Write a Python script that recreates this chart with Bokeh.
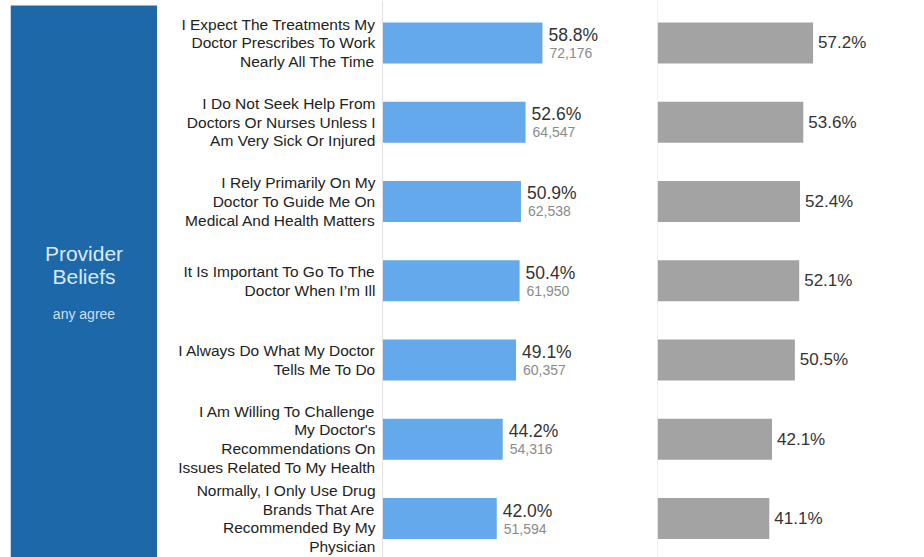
from bokeh.plotting import figure
from bokeh.layouts import row
from bokeh.models import ColumnDataSource, Range1d, Span, Label, BoxAnnotation
from bokeh.core.properties import value
from bokeh.embed import file_html
from bokeh.resources import INLINE

# ---- data ----
statements = [
    "I Expect The Treatments My\nDoctor Prescribes To Work\nNearly All The Time",
    "I Do Not Seek Help From\nDoctors Or Nurses Unless I\nAm Very Sick Or Injured",
    "I Rely Primarily On My\nDoctor To Guide Me On\nMedical And Health Matters",
    "It Is Important To Go To The\nDoctor When I\u2019m Ill",
    "I Always Do What My Doctor\nTells Me To Do",
    "I Am Willing To Challenge\nMy Doctor's\nRecommendations On\nIssues Related To My Health",
    "Normally, I Only Use Drug\nBrands That Are\nRecommended By My\nPhysician",
]
blue_pct = [58.8, 52.6, 50.9, 50.4, 49.1, 44.2, 42.0]
blue_count = ["72,176", "64,547", "62,538", "61,950", "60,357", "54,316", "51,594"]
gray_pct = [57.2, 53.6, 52.4, 52.1, 50.5, 42.1, 41.1]

panel_title = ["Provider", "Beliefs"]
panel_sub = "any agree"

FONT = "Liberation Sans"
H = 557
PX_PER_PCT = 2.72
y_rng = (6.492, -0.536)
BAR_H = 0.517

idx = list(range(len(statements)))
src = ColumnDataSource(dict(
    y=idx, label=statements, bp=blue_pct, gp=gray_pct,
    bp_txt=[f"{v:.1f}%" for v in blue_pct],
    gp_txt=[f"{v:.1f}%" for v in gray_pct],
    cnt=blue_count,
))


def base_fig(width, xr, yr, **kw):
    p = figure(width=width, height=H, x_range=xr, y_range=yr,
               toolbar_location=None, output_backend="svg",
               min_border=0, outline_line_color=None,
               border_fill_color="white", background_fill_color="white", **kw)
    p.axis.visible = False
    p.grid.visible = False
    return p


# ---- left blue panel ----
pA = base_fig(157, Range1d(0, 147), Range1d(H, 0))
pA.min_border_left = 10
pA.add_layout(BoxAnnotation(left=0, right=147, top=5, bottom=H,
                            fill_color="#1c68a9", fill_alpha=1.0, line_color=None))
for txt, yy in zip(panel_title, [253, 276]):
    pA.add_layout(Label(x=73.5, y=yy, text=txt, text_align="center",
                        text_baseline="middle", text_font=FONT,
                        text_font_size="21px", text_color="#dce8f5"))
pA.add_layout(Label(x=73.5, y=313, text=panel_sub, text_align="center",
                    text_baseline="middle", text_font=FONT,
                    text_font_size="14px", text_color="#cfdff0"))

# ---- labels + blue bars ----
wB = 500
left_w = 225
pB = base_fig(wB, Range1d(-left_w / PX_PER_PCT, (wB - left_w) / PX_PER_PCT),
              Range1d(*y_rng))
pB.hbar(y="y", left=0, right="bp", height=BAR_H, source=src,
        fill_color="#63a9ec", line_color=None)
pB.add_layout(Span(location=0, dimension="height", line_color="#e2e2e2", line_width=1))
pB.text(x=0, y="y", text="label", source=src, x_offset=-7,
        text_align="right", text_baseline="middle", text_font=value(FONT),
        text_font_size="15.5px", text_color="#222222", text_line_height=1.1)
pB.text(x="bp", y="y", text="bp_txt", source=src, x_offset=6, y_offset=-8,
        text_align="left", text_baseline="middle", text_font=value(FONT),
        text_font_size="17.5px", text_color="#333333")
pB.text(x="bp", y="y", text="cnt", source=src, x_offset=7, y_offset=10,
        text_align="left", text_baseline="middle", text_font=value(FONT),
        text_font_size="14px", text_color="#8a8a8a")

# ---- gray bars ----
wC = 267
pC = base_fig(wC, Range1d(0, wC / PX_PER_PCT), Range1d(*y_rng))
pC.hbar(y="y", left=0, right="gp", height=BAR_H, source=src,
        fill_color="#a3a3a3", line_color=None)
pC.add_layout(Span(location=0, dimension="height", line_color="#e2e2e2", line_width=1))
pC.text(x="gp", y="y", text="gp_txt", source=src, x_offset=5,
        text_align="left", text_baseline="middle", text_font=value(FONT),
        text_font_size="17px", text_color="#333333")

layout = row(pA, pB, pC, spacing=0)
open("out.html", "w").write(file_html(layout, INLINE))
